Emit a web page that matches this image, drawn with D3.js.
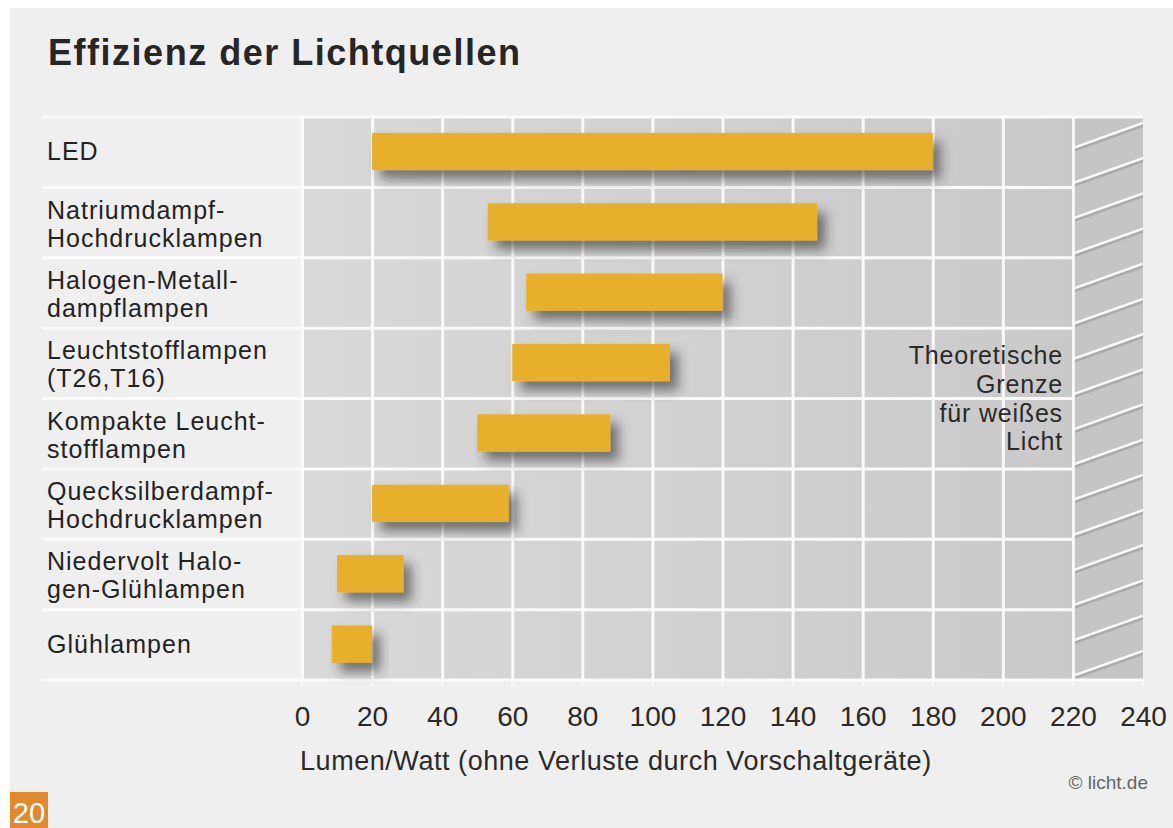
<!DOCTYPE html>
<html lang="de">

<head>
    <title>Effizienz der Lichtquellen</title>
    <meta charset="utf-8">
    <style>
        body { margin: 0; background: #ffffff; }
        text { font-family: "Liberation Sans", Arial, Helvetica, sans-serif; }
    </style>
</head>

<body>
    <div id="my_dataviz"></div>

    <script src="https://d3js.org/d3.v7.min.js"></script>
    <script>
        // data (lumen per watt, min / max)
        const categories = ["LED", "Natrium", "HalogenMetall", "Leuchtstoff", "Kompakt", "Quecksilber", "Niedervolt", "Gluehlampen"];
        const labelLines = [
            ["LED"],
            ["Natriumdampf-", "Hochdrucklampen"],
            ["Halogen-Metall-", "dampflampen"],
            ["Leuchtstofflampen", "(T26,T16)"],
            ["Kompakte Leucht-", "stofflampen"],
            ["Quecksilberdampf-", "Hochdrucklampen"],
            ["Niedervolt Halo-", "gen-Glühlampen"],
            ["Glühlampen"]
        ];
        const minValues = [20, 53, 64, 60, 50, 20, 10, 8.5];
        const maxValues = [180, 147, 120, 105, 88, 59, 29, 20];
        const tickValues = [0, 20, 40, 60, 80, 100, 120, 140, 160, 180, 200, 220, 240];
        const limitValue = 220;
        const limitLines = ["Theoretische", "Grenze", "für weißes", "Licht"];

        const W = 1173, H = 828;

        const svg = d3.select("#my_dataviz")
            .append("svg")
            .attr("width", W)
            .attr("height", H);

        const defs = svg.append("defs");

        // gradient for the grey plot cells
        const grad = defs.append("linearGradient")
            .attr("id", "cellGrad")
            .attr("x1", "0%").attr("x2", "100%")
            .attr("y1", "0%").attr("y2", "0%");
        grad.append("stop").attr("offset", "0%").attr("stop-color", "#d9d9d9");
        grad.append("stop").attr("offset", "100%").attr("stop-color", "#c9c9c9");

        // drop shadow of the bars
        const shadow = defs.append("filter")
            .attr("id", "barShadow")
            .attr("x", "-20%").attr("y", "-40%")
            .attr("width", "160%").attr("height", "200%");
        shadow.append("feDropShadow")
            .attr("dx", 8).attr("dy", 9)
            .attr("stdDeviation", 6)
            .attr("flood-color", "#2a2a2a")
            .attr("flood-opacity", 0.6);

        // card background
        svg.append("rect")
            .attr("x", 10).attr("y", 8)
            .attr("width", W - 10).attr("height", H - 8)
            .attr("fill", "#efefef");

        // scales
        const x = d3.scaleLinear().domain([0, 240]).range([302, 1143]);
        const y = d3.scaleBand().domain(categories).range([117, 680]).paddingInner(0);

        const yTop = y.range()[0], yBottom = y.range()[1];

        // plot background
        svg.append("rect")
            .attr("x", x(0)).attr("y", yTop)
            .attr("width", x(limitValue) - x(0)).attr("height", yBottom - yTop)
            .attr("fill", "url(#cellGrad)");

        // hatched column (theoretical limit)
        svg.append("rect")
            .attr("x", x(limitValue)).attr("y", yTop)
            .attr("width", x(240) - x(limitValue)).attr("height", yBottom - yTop)
            .attr("fill", "#c5c5c5");

        defs.append("clipPath").attr("id", "hatchClip")
            .append("rect")
            .attr("x", x(limitValue)).attr("y", yTop)
            .attr("width", x(240) - x(limitValue)).attr("height", yBottom - yTop);

        const step = y.bandwidth() / 2;
        const hatchIdx = d3.range(-1, 17);
        const hatch = svg.append("g").attr("clip-path", "url(#hatchClip)");
        hatch.selectAll(".hShadow")
            .data(hatchIdx)
            .join("line")
            .attr("class", "hShadow")
            .attr("x1", x(limitValue)).attr("x2", x(240))
            .attr("y1", d => yTop + 33 + d * step)
            .attr("y2", d => yTop + 8 + d * step)
            .attr("stroke", "#9a9a9a")
            .attr("stroke-opacity", 0.6)
            .attr("stroke-width", 4);
        hatch.selectAll(".hLine")
            .data(hatchIdx)
            .join("line")
            .attr("class", "hLine")
            .attr("x1", x(limitValue)).attr("x2", x(240))
            .attr("y1", d => yTop + 31 + d * step)
            .attr("y2", d => yTop + 6 + d * step)
            .attr("stroke", "#fafafa")
            .attr("stroke-width", 2.5);

        // vertical grid lines
        svg.append("g")
            .attr("class", "grid")
            .attr("transform", `translate(0, ${yBottom})`)
            .call(d3.axisBottom(x)
                .tickValues(tickValues.filter(d => d <= limitValue))
                .tickSize(-(yBottom - yTop) - 1)
                .tickFormat(""))
            .call(g => g.select(".domain").remove())
            .call(g => g.selectAll("line")
                .attr("stroke", "#fafafa")
                .attr("stroke-width", 3));

        // horizontal grid lines (row borders)
        const borders = categories.map(c => y(c)).concat([yBottom]);
        svg.selectAll(".rowLine")
            .data(borders)
            .join("line")
            .attr("class", "rowLine")
            .attr("x1", 42)
            .attr("x2", (d, i) => (i === 0 || i === borders.length - 1) ? x(240) : x(limitValue))
            .attr("y1", d => d).attr("y2", d => d)
            .attr("stroke", "#fafafa")
            .attr("stroke-width", 3);

        // small tick marks under the bottom line
        svg.selectAll(".tickMark")
            .data(tickValues)
            .join("line")
            .attr("class", "tickMark")
            .attr("x1", d => x(d)).attr("x2", d => x(d))
            .attr("y1", yBottom).attr("y2", yBottom + 6)
            .attr("stroke", "#fafafa")
            .attr("stroke-width", 2);

        // bars
        svg.selectAll(".bar")
            .data(categories)
            .join("rect")
            .attr("class", "bar")
            .attr("x", (d, i) => x(minValues[i]))
            .attr("y", d => y(d) + y.bandwidth() * 0.225)
            .attr("width", (d, i) => x(maxValues[i]) - x(minValues[i]))
            .attr("height", y.bandwidth() * 0.53)
            .attr("fill", "#e8b02a")
            .attr("filter", "url(#barShadow)");

        // category labels
        const lineGap = 28;
        const labels = svg.selectAll(".catLabel")
            .data(categories)
            .join("text")
            .attr("class", "catLabel")
            .attr("x", 47)
            .attr("fill", "#232323")
            .attr("font-size", 25)
            .attr("letter-spacing", 1);
        labels.each(function (d, i) {
            const lines = labelLines[i];
            const c = y(d) + y.bandwidth() / 2;
            const first = c + 8 - (lines.length - 1) * 12;
            d3.select(this).selectAll("tspan")
                .data(lines)
                .join("tspan")
                .attr("x", 47)
                .attr("y", (l, j) => first + j * lineGap)
                .text(l => l);
        });

        // x axis tick labels
        svg.append("g")
            .attr("class", "myXaxis")
            .attr("transform", `translate(0, ${yBottom})`)
            .call(d3.axisBottom(x).tickValues(tickValues).tickSize(0).tickPadding(0))
            .call(g => g.select(".domain").remove())
            .call(g => g.selectAll("text")
                .attr("dy", null)
                .attr("y", 46)
                .attr("fill", "#2a2a2a")
                .attr("font-size", 28)
                .attr("font-family", "'Liberation Sans', Arial, sans-serif"));

        // axis title
        svg.append("text")
            .attr("x", 300)
            .attr("y", 770)
            .attr("fill", "#2a2a2a")
            .attr("font-size", 27)
            .attr("letter-spacing", 0.55)
            .text("Lumen/Watt (ohne Verluste durch Vorschaltgeräte)");

        // limit text
        svg.append("text")
            .attr("text-anchor", "end")
            .attr("fill", "#2a2a2a")
            .attr("font-size", 25)
            .attr("letter-spacing", 0.8)
            .selectAll("tspan")
            .data(limitLines)
            .join("tspan")
            .attr("x", x(limitValue) - 10)
            .attr("y", (d, i) => 364 + i * 28.8)
            .text(d => d);

        // title
        svg.append("text")
            .attr("x", 48)
            .attr("y", 65)
            .attr("fill", "#262626")
            .attr("font-size", 36)
            .attr("font-weight", "bold")
            .attr("textLength", 472)
            .attr("lengthAdjust", "spacing")
            .text("Effizienz der Lichtquellen");

        // source
        svg.append("text")
            .attr("x", 1148)
            .attr("y", 789)
            .attr("text-anchor", "end")
            .attr("fill", "#666")
            .attr("font-size", 19)
            .text("© licht.de");

        // page number box
        svg.append("rect")
            .attr("x", 10).attr("y", 792)
            .attr("width", 38).attr("height", H - 792)
            .attr("fill", "#e08a2c");
        svg.append("text")
            .attr("x", 29)
            .attr("y", 823)
            .attr("text-anchor", "middle")
            .attr("fill", "#ffffff")
            .attr("font-size", 29)
            .attr("font-family", "'Liberation Sans Narrow', 'DejaVu Sans Condensed', sans-serif")
            .text("20");
    </script>
</body>

</html>
